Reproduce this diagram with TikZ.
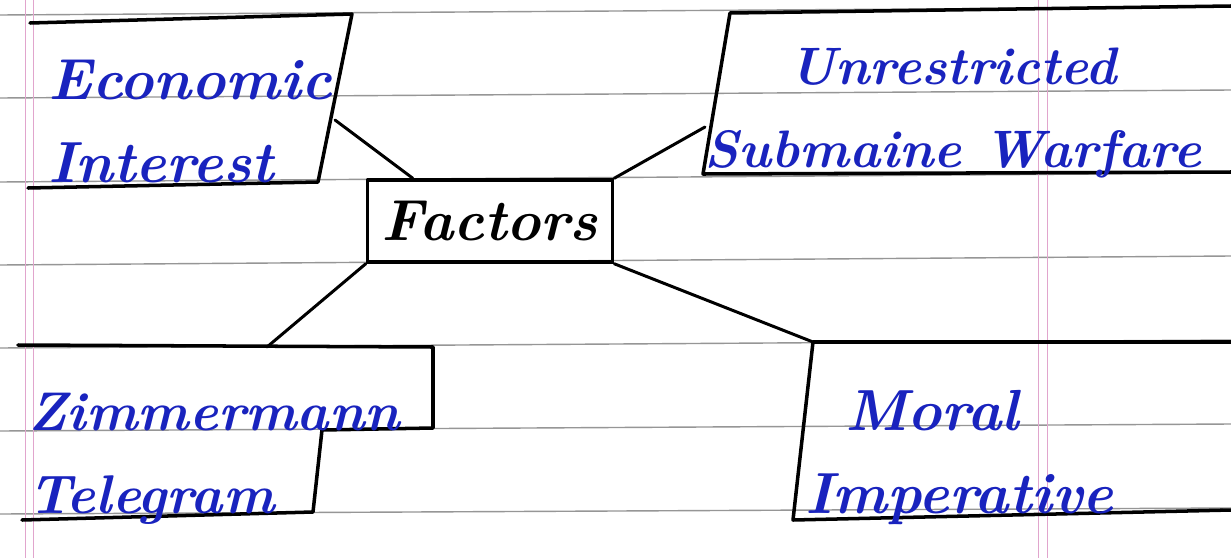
\documentclass[tikz,border=0pt]{standalone}
\usepackage{xcolor}
\usepackage{tikz}
\usetikzlibrary{positioning,calc}
\definecolor{ink}{RGB}{25,35,190}
\definecolor{rule}{RGB}{150,150,150}
\definecolor{margin}{RGB}{225,165,205}

\begin{document}
\begin{tikzpicture}[
  x=0.02cm, y=-0.02cm,
  hand/.style={font=\fontsize{33}{42}\selectfont\bfseries\itshape, text=ink, inner sep=0pt, align=left, anchor=base west},
  edge/.style={line width=2pt, line join=round, line cap=round},
  link/.style={line width=1.7pt, line cap=round},
  ruled/.style={draw=rule, line width=0.8pt}
]
\fill[white] (0,0) rectangle (1231,558);
\useasboundingbox (0,0) rectangle (1231,558);
\foreach \yl/\yr in {15/7, 98/90, 182/173, 265/256, 348/340, 431/424, 514/508}
  \draw[ruled] (0,\yl) -- (1231,\yr);
\foreach \xm in {25,33,1038,1047}
  \draw[draw=margin, line width=0.5pt] (\xm,0) -- (\xm,558);

\draw[edge] (30,23) -- (352,14) -- (318,182) -- (28,188);
\draw[edge] (1231,6) -- (730,13) -- (703,174) -- (1231,172);
\draw[edge] (18,345) -- (433,347) -- (433,428) -- (322,430) -- (313,512) -- (22,520);
\draw[edge] (1231,342) -- (813,342) -- (793,520) -- (1231,510);

\coordinate (eco) at (335,120);
\coordinate (unr) at (705,127);
\coordinate (zim) at (267,347);
\coordinate (mor) at (813,342);

\node[draw, edge, minimum width=4.9cm, minimum height=1.64cm, text depth=-4pt, font=\fontsize{33}{42}\selectfont\bfseries\itshape] (factors) at (490,221) {Factors};

\node[hand] (ecoText) at (48,182) {Economic\\[5pt]Interest};
\node[hand, align=center, anchor=base, font=\fontsize{30}{42}\selectfont\bfseries\itshape] (unrText) at (953,167) {Unrestricted\\[5pt]Submaine Warfare};
\node[hand, font=\fontsize{31}{42}\selectfont\bfseries\itshape] (zimText) at (28,513) {Zimmermann\\[5pt]Telegram};
\node[hand] (morText) at (805,513) {\hspace*{0.8cm}Moral\\[5pt]Imperative};

\draw[link] (eco) -- ([xshift=0.94cm]factors.north west);
\draw[link] (unr) -- (factors.north east);
\draw[link] (factors.south west) -- (zim);
\draw[link] (factors.south east) -- (mor);
\end{tikzpicture}
\end{document}
